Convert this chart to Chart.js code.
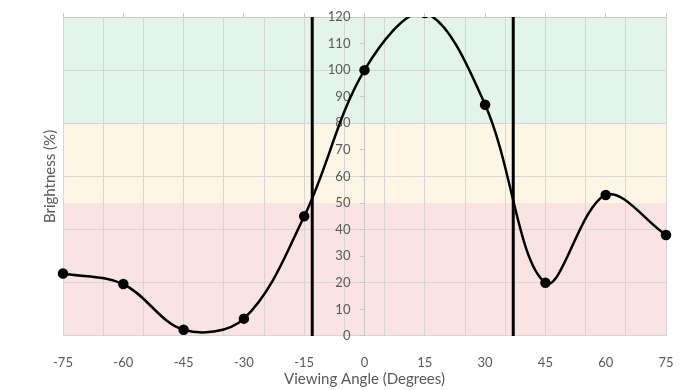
<!DOCTYPE html>
<html>
<head>
<meta charset="utf-8">
<script src="https://cdn.jsdelivr.net/npm/chart.js@4"></script>
<style>
  html, body { margin: 0; padding: 0; background: #fff; }
  #wrap { width: 693px; height: 390px; }
</style>
</head>
<body>
<div id="wrap"><canvas id="viewingAngleChart" width="693" height="390"></canvas></div>
<script>
const angles = [-75, -60, -45, -30, -15, 0, 15, 30, 45, 60, 75];
const brightness = [23.5, 19.5, 2.3, 6.5, 45, 100, 121.5, 87, 20, 53, 38];
const cutoffAngles = [-13, 37];
const bandLimits = [50, 80, 120];
const bandColors = ['#f9e3e3', '#fef6e4', '#e3f4ea'];

const textColor = '#595959';
const gridColor = '#d6d6d6';
const axisColor = '#c8c8c8';

const ctx = document.getElementById('viewingAngleChart').getContext('2d');

const datasets = [];

// coloured bands, drawn under the grid
bandLimits.forEach((limit, i) => {
  datasets.push({
    data: [{ x: -75, y: limit }, { x: 75, y: limit }],
    borderWidth: 0,
    pointRadius: 0,
    backgroundColor: bandColors[i],
    fill: i === 0 ? 'origin' : { value: bandLimits[i - 1] },
    order: 10
  });
});

cutoffAngles.forEach(a => {
  datasets.push({
    data: [{ x: a, y: 0 }, { x: a, y: 120 }],
    borderColor: '#000',
    borderWidth: 3,
    pointRadius: 0,
    fill: false,
    order: 2
  });
});

datasets.push({
  label: 'Brightness',
  data: angles.map((a, i) => ({ x: a, y: brightness[i] })),
  borderColor: '#000',
  backgroundColor: '#000',
  borderWidth: 2.5,
  pointRadius: 4,
  pointBackgroundColor: '#000',
  tension: 0.35,
  fill: false,
  clip: { left: 6, top: 0, right: 6, bottom: 6 },
  order: 1
});

new Chart(ctx, {
  type: 'line',
  data: { datasets: datasets },
  options: {
    responsive: false,
    animation: false,
    layout: { padding: { left: 37, right: 27, top: 13, bottom: 1.5 } },
    plugins: {
      legend: { display: false },
      tooltip: { enabled: false },
      filler: { drawTime: 'beforeDraw' }
    },
    scales: {
      x: {
        type: 'linear',
        position: 'bottom',
        min: -75,
        max: 75,
        grid: { display: false, drawTicks: true, tickLength: 19 },
        border: { display: false },
        ticks: { stepSize: 15, padding: 0, color: textColor, font: { family: 'Lato', size: 13 } },
        title: {
          display: true,
          text: 'Viewing Angle (Degrees)',
          color: textColor,
          font: { family: 'Lato', size: 15 },
          padding: 0
        }
      },
      xGrid: {
        type: 'linear',
        position: 'top',
        min: -75,
        max: 75,
        grid: { color: gridColor, drawTicks: false },
        border: { display: false },
        ticks: { display: false, stepSize: 10 }
      },
      xTop: {
        type: 'linear',
        position: 'top',
        min: -75,
        max: 75,
        grid: { drawOnChartArea: false, tickLength: 4, color: axisColor },
        border: { color: axisColor },
        ticks: { display: false, stepSize: 15 }
      },
      y: {
        type: 'linear',
        position: { x: 0 },
        min: 0,
        max: 120,
        grid: {
          color: c => (c.tick && c.tick.value % 20 === 0) ? gridColor : 'rgba(0,0,0,0)',
          tickColor: axisColor,
          tickLength: 4
        },
        border: { color: axisColor },
        ticks: { stepSize: 10, display: false }
      },
      // tick labels sit a little left of the centred axis line
      yLabels: {
        type: 'linear',
        position: { x: -3.5 },
        min: 0,
        max: 120,
        grid: { display: false, drawTicks: false },
        border: { display: false },
        ticks: { stepSize: 10, color: textColor, font: { family: 'Lato', size: 13 } }
      },
      yTitle: {
        type: 'linear',
        position: 'left',
        min: 0,
        max: 120,
        grid: { display: false, drawTicks: false },
        border: { display: false },
        ticks: { display: false },
        title: {
          display: true,
          text: 'Brightness (%)',
          color: textColor,
          font: { family: 'Lato', size: 15 }
        }
      }
    }
  }
});
</script>
</body>
</html>
